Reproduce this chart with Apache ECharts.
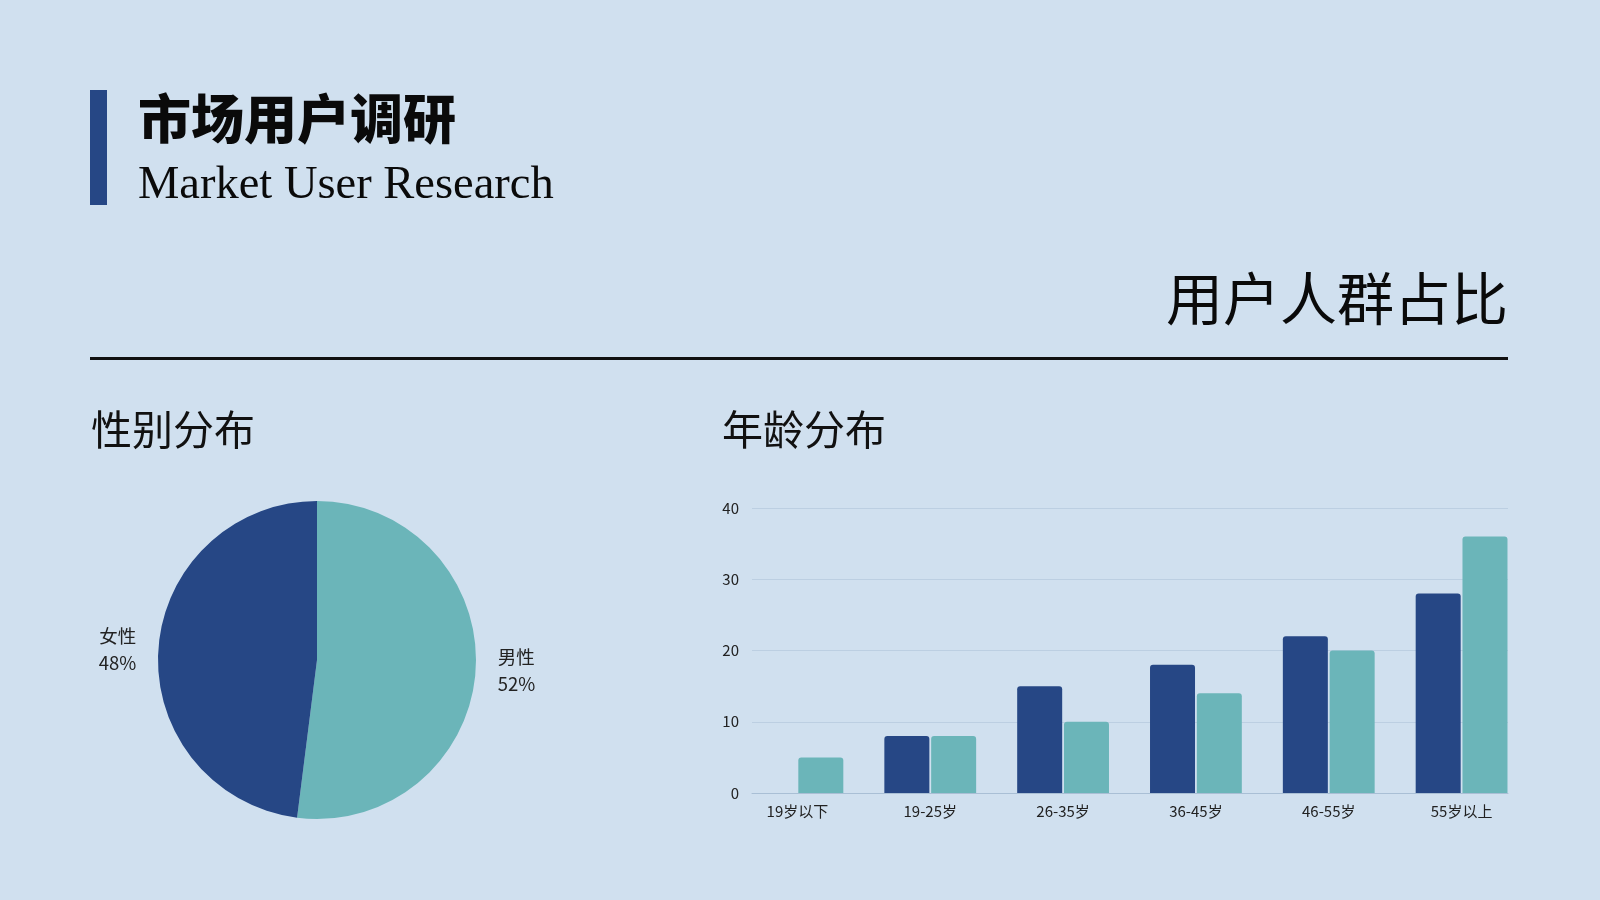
<!DOCTYPE html>
<html lang="zh-CN">
<head>
    <meta charset="UTF-8">
    <title>市场用户调研</title>
    <script src="https://cdn.jsdelivr.net/npm/echarts/dist/echarts.min.js"></script>
    <style>
        html, body { margin: 0; padding: 0; background: #d0e0ef; }
        #main { width: 1600px; height: 900px; }
    </style>
</head>
<body>
<div id="main"></div>
<script type="text/javascript">
    // 年龄分布
    var ageGroups = ['19岁以下', '19-25岁', '26-35岁', '36-45岁', '46-55岁', '55岁以上'];
    var femaleAge = [0, 8, 15, 18, 22, 28];
    var maleAge = [5, 8, 10, 14, 20, 36];
    // 性别分布
    var genderNames = ['男性', '女性'];
    var genderValues = [52, 48];

    var darkBlue = '#264785';
    var teal = '#6bb5b9';
    var sans = '"Noto Sans CJK SC", "Noto Sans", sans-serif';

    var myChart = echarts.init(document.getElementById('main'));
    var option = {
        backgroundColor: '#d0e0ef',
        textStyle: { fontFamily: sans },
        graphic: [
            { type: 'rect', shape: { x: 90, y: 90, width: 17, height: 115 }, style: { fill: darkBlue } },
            { type: 'text', style: { x: 138, y: 119, text: '市场用户调研', font: '900 53px ' + sans, fill: '#0a0a0a', verticalAlign: 'middle' } },
            { type: 'text', style: { x: 138, y: 186, text: 'Market User Research', font: '46.5px "Liberation Serif", serif', fill: '#0a0a0a', verticalAlign: 'middle' } },
            { type: 'text', style: { x: 1508, y: 298, text: '用户人群占比', font: '400 57px ' + sans, fill: '#0a0a0a', align: 'right', verticalAlign: 'middle' } },
            { type: 'rect', shape: { x: 90, y: 357, width: 1418, height: 3 }, style: { fill: '#111' } },
            { type: 'text', style: { x: 91, y: 429, text: '性别分布', font: '400 41px ' + sans, fill: '#111', verticalAlign: 'middle' } },
            { type: 'text', style: { x: 722, y: 429, text: '年龄分布', font: '400 41px ' + sans, fill: '#111', verticalAlign: 'middle' } }
        ],
        grid: [
            { left: 731, right: 72, top: 508, bottom: 107 },
            { left: 752, right: 92, top: 508, bottom: 107 }
        ],
        xAxis: [
            {
                type: 'category', gridIndex: 0, data: ageGroups,
                axisLine: { show: false }, axisTick: { show: false },
                axisLabel: { color: '#222', fontSize: 15, margin: 11 }
            },
            {
                type: 'category', gridIndex: 1, data: ageGroups,
                axisLine: { show: true, lineStyle: { color: '#a9bfd5', width: 1 } },
                axisTick: { show: false }, axisLabel: { show: false }
            }
        ],
        yAxis: [
            { type: 'value', gridIndex: 0, min: 0, max: 40, interval: 10, show: false },
            {
                type: 'value', gridIndex: 1, min: 0, max: 40, interval: 10,
                axisLine: { show: false }, axisTick: { show: false },
                axisLabel: { color: '#222', fontSize: 15, margin: 13 },
                splitLine: { lineStyle: { color: '#bccfe2', width: 1 } }
            }
        ],
        series: [
            {
                name: '性别分布',
                type: 'pie',
                center: [317, 660],
                radius: 159,
                startAngle: 90,
                data: genderNames.map(function (n, i) {
                    return { name: n, value: genderValues[i], itemStyle: { color: i === 0 ? teal : darkBlue } };
                }),
                itemStyle: { borderWidth: 0 },
                label: {
                    position: 'outside',
                    formatter: '{b}\n{d}%',
                    color: '#222',
                    fontSize: 18.5,
                    lineHeight: 27
                },
                labelLine: { show: false, length: 11, length2: 6 }
            },
            {
                name: '女性',
                type: 'bar',
                xAxisIndex: 0, yAxisIndex: 0,
                data: femaleAge,
                barWidth: 45,
                barGap: '4%',
                itemStyle: { color: darkBlue, borderRadius: [3, 3, 0, 0] }
            },
            {
                name: '男性',
                type: 'bar',
                xAxisIndex: 0, yAxisIndex: 0,
                data: maleAge,
                barWidth: 45,
                barGap: '4%',
                itemStyle: { color: teal, borderRadius: [3, 3, 0, 0] }
            }
        ]
    };
    option && myChart.setOption(option);
</script>
</body>
</html>
